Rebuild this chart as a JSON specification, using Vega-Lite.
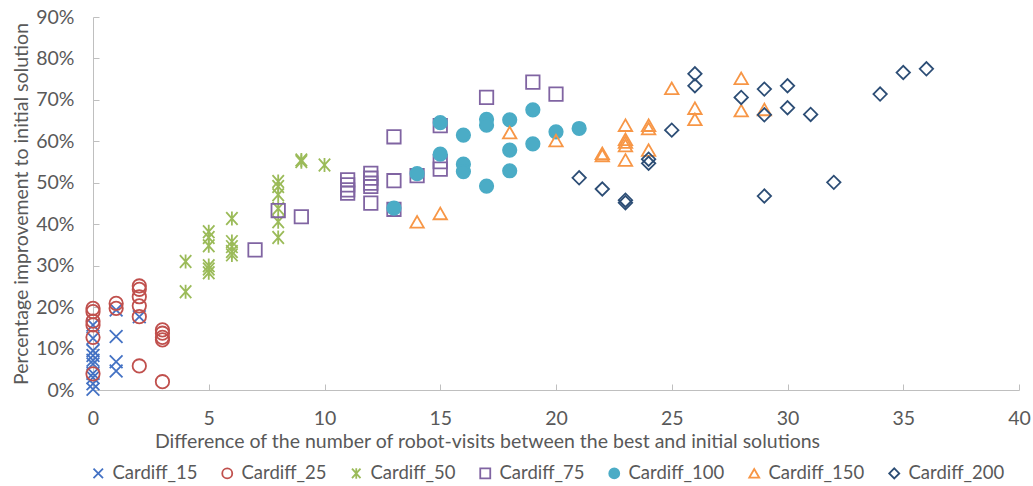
{
  "$schema": "https://vega.github.io/schema/vega-lite/v6.json",
  "width": 926,
  "height": 373,
  "autosize": {"type": "none"},
  "padding": {"left": 93, "top": 17, "right": 14, "bottom": 96},
  "background": "white",
  "config": {
    "view": {"stroke": null},
    "font": "Lato",
    "axis": {"labelFont": "Lato", "titleFont": "Lato", "labelColor": "#595959", "titleColor": "#595959", "titleFontWeight": "normal", "labelFontSize": 19.5, "titleFontSize": 19.5, "domainColor": "#BFBFBF", "tickColor": "#BFBFBF", "grid": false},
    "legend": {"labelFont": "Lato", "labelFontSize": 18.5, "labelColor": "#595959"}
  },
  "data": {
    "values": [
      {"series": "Cardiff_15", "diff": 0, "pct": 15.7},
      {"series": "Cardiff_15", "diff": 0, "pct": 12.5},
      {"series": "Cardiff_15", "diff": 0, "pct": 9.5},
      {"series": "Cardiff_15", "diff": 0, "pct": 8.3},
      {"series": "Cardiff_15", "diff": 0, "pct": 7.2},
      {"series": "Cardiff_15", "diff": 0, "pct": 6.3},
      {"series": "Cardiff_15", "diff": 0, "pct": 4.0},
      {"series": "Cardiff_15", "diff": 0, "pct": 3.0},
      {"series": "Cardiff_15", "diff": 0, "pct": 1.5},
      {"series": "Cardiff_15", "diff": 0, "pct": 0.2},
      {"series": "Cardiff_15", "diff": 1, "pct": 19.3},
      {"series": "Cardiff_15", "diff": 1, "pct": 12.9},
      {"series": "Cardiff_15", "diff": 1, "pct": 6.8},
      {"series": "Cardiff_15", "diff": 1, "pct": 4.6},
      {"series": "Cardiff_15", "diff": 2, "pct": 17.7},
      {"series": "Cardiff_25", "diff": 0, "pct": 19.7},
      {"series": "Cardiff_25", "diff": 0, "pct": 18.9},
      {"series": "Cardiff_25", "diff": 0, "pct": 16.6},
      {"series": "Cardiff_25", "diff": 0, "pct": 15.7},
      {"series": "Cardiff_25", "diff": 0, "pct": 12.7},
      {"series": "Cardiff_25", "diff": 0, "pct": 3.9},
      {"series": "Cardiff_25", "diff": 1, "pct": 20.9},
      {"series": "Cardiff_25", "diff": 1, "pct": 19.7},
      {"series": "Cardiff_25", "diff": 2, "pct": 25.1},
      {"series": "Cardiff_25", "diff": 2, "pct": 24.3},
      {"series": "Cardiff_25", "diff": 2, "pct": 22.5},
      {"series": "Cardiff_25", "diff": 2, "pct": 20.3},
      {"series": "Cardiff_25", "diff": 2, "pct": 17.7},
      {"series": "Cardiff_25", "diff": 2, "pct": 5.8},
      {"series": "Cardiff_25", "diff": 3, "pct": 14.5},
      {"series": "Cardiff_25", "diff": 3, "pct": 13.7},
      {"series": "Cardiff_25", "diff": 3, "pct": 12.7},
      {"series": "Cardiff_25", "diff": 3, "pct": 12.1},
      {"series": "Cardiff_25", "diff": 3, "pct": 2.0},
      {"series": "Cardiff_50", "diff": 4, "pct": 31.0},
      {"series": "Cardiff_50", "diff": 4, "pct": 23.7},
      {"series": "Cardiff_50", "diff": 5, "pct": 38.2},
      {"series": "Cardiff_50", "diff": 5, "pct": 36.8},
      {"series": "Cardiff_50", "diff": 5, "pct": 34.8},
      {"series": "Cardiff_50", "diff": 5, "pct": 30.0},
      {"series": "Cardiff_50", "diff": 5, "pct": 29.2},
      {"series": "Cardiff_50", "diff": 5, "pct": 28.3},
      {"series": "Cardiff_50", "diff": 6, "pct": 41.4},
      {"series": "Cardiff_50", "diff": 6, "pct": 35.8},
      {"series": "Cardiff_50", "diff": 6, "pct": 34.6},
      {"series": "Cardiff_50", "diff": 6, "pct": 33.4},
      {"series": "Cardiff_50", "diff": 6, "pct": 32.6},
      {"series": "Cardiff_50", "diff": 8, "pct": 50.3},
      {"series": "Cardiff_50", "diff": 8, "pct": 49.1},
      {"series": "Cardiff_50", "diff": 8, "pct": 47.1},
      {"series": "Cardiff_50", "diff": 8, "pct": 43.8},
      {"series": "Cardiff_50", "diff": 8, "pct": 40.6},
      {"series": "Cardiff_50", "diff": 8, "pct": 36.8},
      {"series": "Cardiff_50", "diff": 9, "pct": 55.5},
      {"series": "Cardiff_50", "diff": 9, "pct": 55.1},
      {"series": "Cardiff_50", "diff": 10, "pct": 54.3},
      {"series": "Cardiff_75", "diff": 7, "pct": 33.8},
      {"series": "Cardiff_75", "diff": 8, "pct": 43.3},
      {"series": "Cardiff_75", "diff": 9, "pct": 41.8},
      {"series": "Cardiff_75", "diff": 11, "pct": 50.7},
      {"series": "Cardiff_75", "diff": 11, "pct": 49.5},
      {"series": "Cardiff_75", "diff": 11, "pct": 48.3},
      {"series": "Cardiff_75", "diff": 11, "pct": 47.5},
      {"series": "Cardiff_75", "diff": 12, "pct": 52.3},
      {"series": "Cardiff_75", "diff": 12, "pct": 51.1},
      {"series": "Cardiff_75", "diff": 12, "pct": 49.9},
      {"series": "Cardiff_75", "diff": 12, "pct": 49.1},
      {"series": "Cardiff_75", "diff": 12, "pct": 45.1},
      {"series": "Cardiff_75", "diff": 13, "pct": 61.1},
      {"series": "Cardiff_75", "diff": 13, "pct": 50.5},
      {"series": "Cardiff_75", "diff": 13, "pct": 43.6},
      {"series": "Cardiff_75", "diff": 14, "pct": 51.7},
      {"series": "Cardiff_75", "diff": 15, "pct": 63.8},
      {"series": "Cardiff_75", "diff": 15, "pct": 55.1},
      {"series": "Cardiff_75", "diff": 15, "pct": 53.3},
      {"series": "Cardiff_75", "diff": 17, "pct": 70.6},
      {"series": "Cardiff_75", "diff": 19, "pct": 74.3},
      {"series": "Cardiff_75", "diff": 20, "pct": 71.4},
      {"series": "Cardiff_100", "diff": 13, "pct": 43.9},
      {"series": "Cardiff_100", "diff": 14, "pct": 52.2},
      {"series": "Cardiff_100", "diff": 15, "pct": 64.5},
      {"series": "Cardiff_100", "diff": 15, "pct": 56.9},
      {"series": "Cardiff_100", "diff": 16, "pct": 61.5},
      {"series": "Cardiff_100", "diff": 16, "pct": 54.5},
      {"series": "Cardiff_100", "diff": 16, "pct": 52.7},
      {"series": "Cardiff_100", "diff": 17, "pct": 65.3},
      {"series": "Cardiff_100", "diff": 17, "pct": 63.9},
      {"series": "Cardiff_100", "diff": 17, "pct": 49.2},
      {"series": "Cardiff_100", "diff": 18, "pct": 65.2},
      {"series": "Cardiff_100", "diff": 18, "pct": 57.9},
      {"series": "Cardiff_100", "diff": 18, "pct": 52.9},
      {"series": "Cardiff_100", "diff": 19, "pct": 67.6},
      {"series": "Cardiff_100", "diff": 19, "pct": 59.4},
      {"series": "Cardiff_100", "diff": 20, "pct": 62.3},
      {"series": "Cardiff_100", "diff": 21, "pct": 63.1},
      {"series": "Cardiff_150", "diff": 14, "pct": 40.6},
      {"series": "Cardiff_150", "diff": 15, "pct": 42.6},
      {"series": "Cardiff_150", "diff": 18, "pct": 62.1},
      {"series": "Cardiff_150", "diff": 20, "pct": 60.2},
      {"series": "Cardiff_150", "diff": 22, "pct": 57.1},
      {"series": "Cardiff_150", "diff": 22, "pct": 56.6},
      {"series": "Cardiff_150", "diff": 23, "pct": 63.9},
      {"series": "Cardiff_150", "diff": 23, "pct": 60.5},
      {"series": "Cardiff_150", "diff": 23, "pct": 59.8},
      {"series": "Cardiff_150", "diff": 23, "pct": 59.0},
      {"series": "Cardiff_150", "diff": 23, "pct": 55.5},
      {"series": "Cardiff_150", "diff": 24, "pct": 63.9},
      {"series": "Cardiff_150", "diff": 24, "pct": 63.1},
      {"series": "Cardiff_150", "diff": 24, "pct": 57.9},
      {"series": "Cardiff_150", "diff": 25, "pct": 72.8},
      {"series": "Cardiff_150", "diff": 26, "pct": 68.0},
      {"series": "Cardiff_150", "diff": 26, "pct": 65.3},
      {"series": "Cardiff_150", "diff": 28, "pct": 75.2},
      {"series": "Cardiff_150", "diff": 28, "pct": 67.4},
      {"series": "Cardiff_150", "diff": 29, "pct": 67.7},
      {"series": "Cardiff_200", "diff": 21, "pct": 51.2},
      {"series": "Cardiff_200", "diff": 22, "pct": 48.5},
      {"series": "Cardiff_200", "diff": 23, "pct": 45.8},
      {"series": "Cardiff_200", "diff": 23, "pct": 45.2},
      {"series": "Cardiff_200", "diff": 24, "pct": 55.7},
      {"series": "Cardiff_200", "diff": 24, "pct": 54.7},
      {"series": "Cardiff_200", "diff": 25, "pct": 62.7},
      {"series": "Cardiff_200", "diff": 26, "pct": 76.3},
      {"series": "Cardiff_200", "diff": 26, "pct": 73.4},
      {"series": "Cardiff_200", "diff": 28, "pct": 70.6},
      {"series": "Cardiff_200", "diff": 29, "pct": 72.6},
      {"series": "Cardiff_200", "diff": 29, "pct": 66.4},
      {"series": "Cardiff_200", "diff": 29, "pct": 46.8},
      {"series": "Cardiff_200", "diff": 30, "pct": 73.4},
      {"series": "Cardiff_200", "diff": 30, "pct": 68.1},
      {"series": "Cardiff_200", "diff": 31, "pct": 66.5},
      {"series": "Cardiff_200", "diff": 32, "pct": 50.1},
      {"series": "Cardiff_200", "diff": 34, "pct": 71.4},
      {"series": "Cardiff_200", "diff": 35, "pct": 76.6},
      {"series": "Cardiff_200", "diff": 36, "pct": 77.5}
    ]
  },
  "mark": {"type": "point", "size": 180, "strokeWidth": 1.8, "opacity": 1},
  "encoding": {
    "x": {
      "field": "diff", "type": "quantitative",
      "scale": {"domain": [0, 40], "nice": false, "zero": false},
      "axis": {
        "title": "Difference of the number of robot-visits between the best and initial solutions",
        "values": [0, 5, 10, 15, 20, 25, 30, 35, 40],
        "tickSize": -6, "labelPadding": 25, "labelFlush": false, "titlePadding": 5, "titleX": 394
      }
    },
    "y": {
      "field": "pct", "type": "quantitative",
      "scale": {"domain": [0, 90], "nice": false},
      "axis": {
        "title": "Percentage improvement to initial solution",
        "values": [0, 10, 20, 30, 40, 50, 60, 70, 80, 90],
        "labelExpr": "datum.value + '%'",
        "tickSize": -6, "labelPadding": 25, "titlePadding": 4
      }
    },
    "stroke": {
      "field": "series", "type": "nominal",
      "scale": {
        "domain": ["Cardiff_15", "Cardiff_25", "Cardiff_50", "Cardiff_75", "Cardiff_100", "Cardiff_150", "Cardiff_200"],
        "range": ["#4472C4", "#C0504D", "#9BBB59", "#8064A2", "#4BACC6", "#F79646", "#2C4D75"]
      },
      "legend": {
        "title": null, "orient": "none", "direction": "horizontal", "columns": 7,
        "legendX": -4, "legendY": 447, "symbolSize": 100, "symbolStrokeWidth": 1.8,
        "columnPadding": 20, "labelOffset": 5
      }
    },
    "fill": {
      "field": "series", "type": "nominal",
      "scale": {
        "domain": ["Cardiff_15", "Cardiff_25", "Cardiff_50", "Cardiff_75", "Cardiff_100", "Cardiff_150", "Cardiff_200"],
        "range": ["transparent", "transparent", "transparent", "transparent", "#4BACC6", "transparent", "transparent"]
      },
      "legend": {
        "title": null, "orient": "none", "direction": "horizontal", "columns": 7,
        "legendX": -4, "legendY": 447, "symbolSize": 100, "symbolStrokeWidth": 1.8,
        "columnPadding": 20, "labelOffset": 5
      }
    },
    "shape": {
      "field": "series", "type": "nominal",
      "scale": {
        "domain": ["Cardiff_15", "Cardiff_25", "Cardiff_50", "Cardiff_75", "Cardiff_100", "Cardiff_150", "Cardiff_200"],
        "range": ["M-0.95,-0.95L0.95,0.95M0.95,-0.95L-0.95,0.95", "circle", "M-0.85,-0.95L0.85,0.95M0.85,-0.95L-0.85,0.95M0,-1.05L0,1.05", "square", "circle", "triangle-up", "diamond"]
      },
      "legend": {
        "title": null, "orient": "none", "direction": "horizontal", "columns": 7,
        "legendX": -4, "legendY": 447, "symbolSize": 100, "symbolStrokeWidth": 1.8,
        "columnPadding": 20, "labelOffset": 5
      }
    }
  }
}
